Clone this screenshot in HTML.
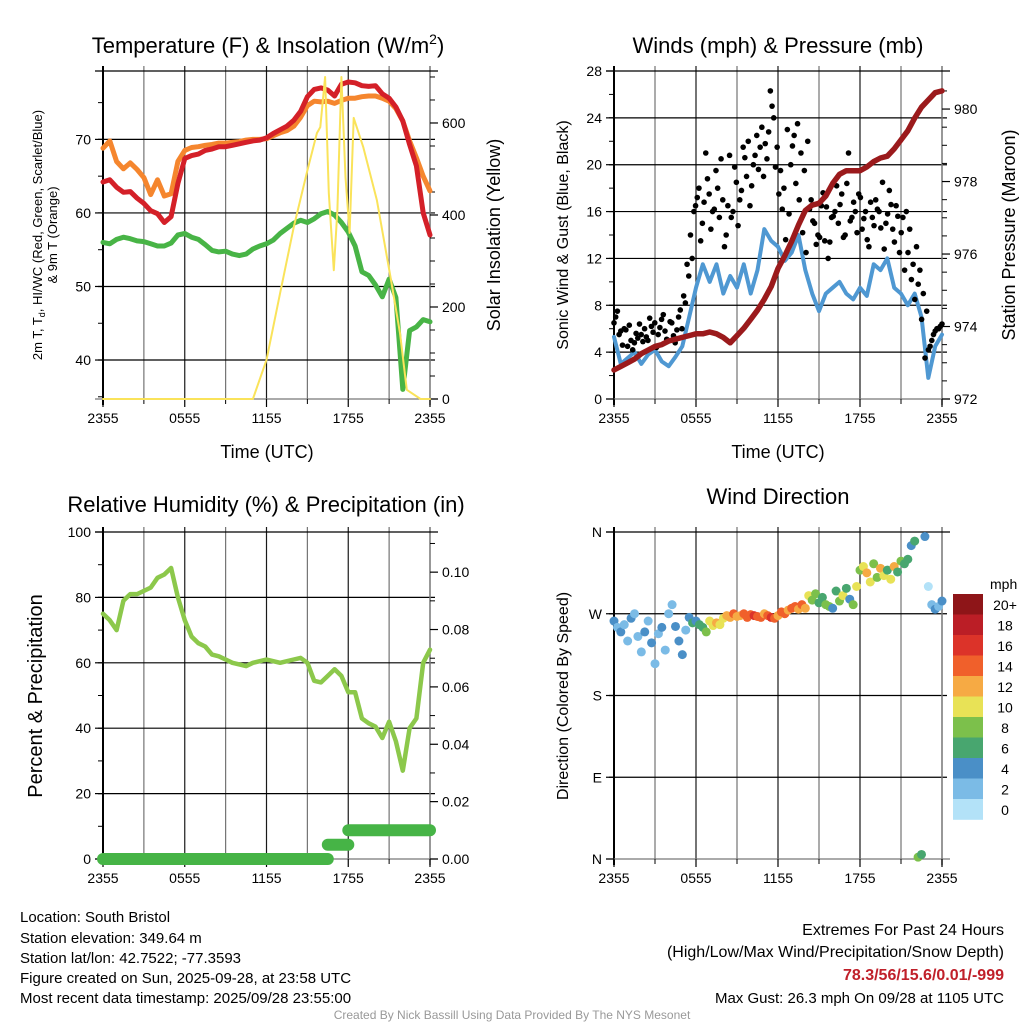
<!DOCTYPE html>
<html><head><meta charset="utf-8">
<style>
html,body{margin:0;padding:0;background:#fff;}
svg{display:block;font-family:"Liberation Sans",Arial,sans-serif;}
</style></head>
<body>
<svg id="c" width="1024" height="1024" viewBox="0 0 1024 1024" xmlns="http://www.w3.org/2000/svg">
<rect x="0" y="0" width="1024" height="1024" fill="#fff"/>
<g font-size="22" text-anchor="middle" fill="#000">
<text x="268" y="53">Temperature (F) &amp; Insolation (W/m<tspan font-size="14" dy="-9">2</tspan><tspan dy="9">)</tspan></text>
<text x="778" y="53">Winds (mph) &amp; Pressure (mb)</text>
<text x="266" y="512">Relative Humidity (%) &amp; Precipitation (in)</text>
<text x="778" y="504">Wind Direction</text>
</g>
<g font-size="18" text-anchor="middle">
<text x="267" y="458">Time (UTC)</text>
<text x="778" y="458">Time (UTC)</text>
<text transform="translate(500,235) rotate(-90)">Solar Insolation (Yellow)</text>
<text transform="translate(1015,235) rotate(-90)">Station Pressure (Maroon)</text>
<text font-size="16" transform="translate(568,235) rotate(-90)">Sonic Wind &amp; Gust (Blue, Black)</text>
<text font-size="20" transform="translate(42,696) rotate(-90)">Percent &amp; Precipitation</text>
<text font-size="16" transform="translate(568,696) rotate(-90)">Direction (Colored By Speed)</text>
<text font-size="13" transform="translate(42,235) rotate(-90)">2m T, T<tspan font-size="9" dy="3">d</tspan><tspan dy="-3">, HI/WC (Red, Green, Scarlet/Blue)</tspan></text>
<text font-size="13" transform="translate(57,235) rotate(-90)">&amp; 9m T (Orange)</text>
</g>
<g font-size="15">
<text x="20" y="922">Location: South Bristol</text>
<text x="20" y="943">Station elevation: 349.64 m</text>
<text x="20" y="963">Station lat/lon: 42.7522; -77.3593</text>
<text x="20" y="983">Figure created on Sun, 2025-09-28, at 23:58 UTC</text>
<text x="20" y="1003">Most recent data timestamp: 2025/09/28 23:55:00</text>
</g>
<g font-size="16" text-anchor="end">
<text x="1004" y="935">Extremes For Past 24 Hours</text>
<text x="1004" y="957">(High/Low/Max Wind/Precipitation/Snow Depth)</text>
<text x="1004" y="980" fill="#c0202a" font-weight="bold">78.3/56/15.6/0.01/-999</text>
<text x="1004" y="1003" font-size="15">Max Gust: 26.3 mph On 09/28 at 1105 UTC</text>
</g>
<text x="512" y="1019" font-size="12" fill="#999" text-anchor="middle">Created By Nick Bassill Using Data Provided By The NYS Mesonet</text>
<g id="plots"></g>
</svg>
<script>
// ---- Data ----
const timeTicks = ["2355","0555","1155","1755","2355"];
const tempRed = [64.2,64.5,63.5,62.8,62.9,62.0,61.3,60.3,59.9,58.7,59.5,64.0,67.4,67.8,68.0,68.5,68.7,69.0,69.0,69.2,69.4,69.6,69.8,69.9,70.2,70.8,71.3,71.8,72.6,73.8,75.8,76.8,77.0,76.7,75.9,77.5,77.8,77.7,77.3,77.2,77.3,76.2,75.6,74.4,72.5,69.3,66.4,60.0,57.0];
const tempOrange = [68.8,69.8,67.0,66.0,66.8,65.9,64.8,62.5,64.5,62.3,62.6,67.0,68.5,68.9,69.0,69.2,69.3,69.5,69.5,69.6,69.7,69.9,70.0,70.0,70.1,70.5,70.9,71.2,71.8,73.0,74.6,75.2,75.1,75.2,74.9,75.3,75.6,75.6,75.8,75.9,75.9,75.6,75.2,74.2,72.5,69.8,67.5,65.0,63.0];
const dewGreen = [56.0,55.8,56.4,56.7,56.5,56.2,56.1,55.8,55.5,55.5,55.9,57.0,57.2,56.7,56.4,55.7,54.9,54.7,54.8,54.4,54.2,54.4,55.1,55.5,55.8,56.3,57.2,57.9,58.6,59.0,58.7,59.2,59.9,60.2,59.7,58.7,57.4,55.5,52.0,51.5,50.2,48.6,51.0,48.5,36.0,44.0,44.5,45.5,45.2];
const solarHours = [0,11.0,12.0,13.0,14.0,15.0,15.7,15.95,16.3,16.57,16.94,17.2,17.5,17.8,18.1,18.4,19.1,20.1,21.1,21.8,22.3,23.3,24];
const solarValues = [0,0,85,230,374,497,578,591,700,448,280,411,700,482,361,611,548,432,265,143,20,0,0];
const tempTicks = [40,50,60,70];
const solarTicks = [0,200,400,600];
const windSpeed = [5.3,3.0,3.5,4.0,3.0,3.8,4.2,3.2,2.8,3.6,4.5,7.0,9.5,11.5,10.0,11.5,9.0,10.5,9.5,11.5,9.0,11.0,14.5,13.5,13.0,11.8,12.5,14.0,11.0,9.0,7.5,9.0,9.5,10.0,9.0,8.5,9.5,8.8,11.5,11.0,12.0,9.5,9.0,8.0,9.0,7.0,1.8,4.5,5.5];
const windGust = [6.5,7.5,5.8,6.0,4.5,5.0,4.8,5.2,5.5,6.0,5.0,6.2,6.5,5.5,6.8,5.8,5.0,6.5,4.8,7.0,6.0,8.2,10.5,12.0,16.5,18.0,15.0,21.0,17.5,16.0,19.5,15.5,17.0,14.0,20.8,16.0,18.5,17.0,21.5,19.0,16.5,20.0,22.5,21.5,19.0,20.5,26.3,24.0,21.5,19.5,18.0,23.0,20.0,22.5,23.5,21.0,19.5,22.0,17.0,15.0,14.0,16.5,13.5,12.0,15.5,16.0,15.0,17.5,14.0,21.0,15.5,16.0,17.5,14.5,16.0,13.0,15.5,17.0,16.0,18.5,15.0,17.8,14.5,16.5,12.5,15.5,16.0,14.5,11.5,13.0,11.0,9.0,7.5,4.5,5.5,6.0,6.2];
const windGustB = [7.0,5.5,4.6,5.9,6.3,4.2,5.6,6.4,4.9,5.3,6.9,5.7,4.4,6.1,7.2,5.1,6.6,5.4,5.9,7.6,8.8,11.5,14.0,16.0,17.2,13.5,16.8,18.8,14.5,16.2,18.0,20.5,13.0,16.5,15.5,19.8,14.8,17.8,20.6,22.0,18.2,20.8,19.6,23.2,21.8,22.8,25.0,19.8,17.5,16.2,13.6,15.8,21.6,18.4,17.0,14.2,12.5,16.2,15.2,13.2,13.8,17.6,16.4,13.4,15.6,18.2,16.6,13.8,18.4,15.2,16.8,14.2,17.2,15.4,13.6,16.8,14.8,16.2,14.6,12.8,15.8,16.6,13.4,15.6,14.2,11.0,12.5,10.2,8.5,9.8,6.8,3.5,4.2,5.0,5.8,6.0,6.4];
const pressure = [972.8,972.9,973.0,973.1,973.25,973.35,973.45,973.5,973.6,973.65,973.7,973.75,973.8,973.8,973.85,973.8,973.7,973.55,973.75,973.95,974.2,974.45,974.75,975.1,975.6,975.95,976.35,976.8,977.2,977.35,977.4,977.6,977.95,978.2,978.3,978.3,978.3,978.4,978.55,978.65,978.7,978.9,979.15,979.4,979.75,980.05,980.25,980.45,980.5];
const windTicks = [0,4,8,12,16,20,24,28];
const pressureTicks = [972,974,976,978,980];
const humidity = [75,73,70,79,81,81,82,83,86,87,89,80,73,68,66,65,62.5,62,61,60,59.5,59,60,60.5,61,60.5,60,60.5,61,61.5,60,54.5,54,56,58,56,51,51,43,41.5,40.5,37,42,36,27,40,43,60,64];
const precip = [0,0,0,0,0,0,0,0,0,0,0,0,0,0,0,0,0,0,0,0,0,0,0,0,0,0,0,0,0,0,0,0,0,0.005,0.005,0.005,0.01,0.01,0.01,0.01,0.01,0.01,0.01,0.01,0.01,0.01,0.01,0.01,0.01];
const humidityTicks = [0,20,40,60,80,100];
const precipTicks = ["0.00","0.02","0.04","0.06","0.08","0.10"];
const windDir = [262,255,250,258,240,265,270,245,228,250,262,238,215,248,255,230,270,280,256,240,225,252,266,260,262,258,255,250,262,257,260,258,265,268,266,270,267,268,270,266,269,268,267,266,270,268,266,265,268,272,270,274,276,278,275,280,276,290,285,292,282,288,280,278,276,295,284,290,298,286,280,300,318,322,315,305,325,310,320,312,318,308,322,316,328,325,330,345,350,2,5,355,300,280,275,278,284];
const dirSpeed = [4,3,4,3,2,4,3,2,3,4,3,4,2,3,4,3,2,3,4,5,4,3,4,6,5,6,7,9,10,11,12,10,11,12,13,14,13,12,14,15,14,16,15,14,13,15,16,14,13,14,15,13,15,14,13,15,12,10,9,8,7,6,9,8,4,7,8,10,6,5,9,10,9,11,12,10,8,9,13,10,7,11,12,6,8,7,6,5,6,8,7,4,1,3,4,3,4];
const dirTicks = ["N","E","S","W","N"];
const speedLevels = ["0","2","4","6","8","10","12","14","16","18","20+"];
const speedColors = ["#b3e2f8","#7bbbe6","#4a8fc7","#48a66f","#7cc04b","#e8e256","#f6aa44","#f0602b","#dc3329","#bb1e26","#8e1518"];

// ---- Drawing ----
const NS="http://www.w3.org/2000/svg";
const root=document.getElementById('plots');
function mk(tag,attrs,parent){const e=document.createElementNS(NS,tag);for(const k in attrs)e.setAttribute(k,attrs[k]);(parent||root).appendChild(e);return e;}
function scale(d0,d1,r0,r1){return v=>r0+(v-d0)*(r1-r0)/(d1-d0);}
function pathOf(xs,ys){return xs.map((x,i)=>(i?'L':'M')+x.toFixed(1)+' '+ys[i].toFixed(1)).join(' ');}

function frame(name,L,T,R,B,hLines){
  const g=mk('g',{});
  
  
  for(let k=1;k<8;k++){const x=L+(R-L)*k/8;
    const ln=mk('line',{x1:x,y1:T-5,x2:x,y2:B,stroke:'#000','stroke-width':1.2,'stroke-opacity':(k%2?0.55:0.9)},g);
    }
  hLines.forEach(y=>{const ln=mk('line',{x1:L-5,y1:y,x2:R+5,y2:y,stroke:'#000','stroke-width':1.2},g);
    });
  mk('line',{x1:L,y1:T-5,x2:L,y2:B+6,stroke:'#000','stroke-width':2},g);
  mk('line',{x1:R,y1:T-5,x2:R,y2:B+6,stroke:'#777','stroke-width':1.5},g);
  mk('line',{x1:L-8,y1:B,x2:R+8,y2:B,stroke:'#777','stroke-width':1.2},g);
  mk('line',{x1:L-8,y1:T,x2:R+8,y2:T,stroke:'#000','stroke-width':1.2},g);
  // time ticks
  timeTicks.forEach((t,k)=>{const x=L+(R-L)*k/4;
    mk('line',{x1:x,y1:B,x2:x,y2:B+8,stroke:'#000','stroke-width':1.2},g);
    const tx=mk('text',{x:x,y:B+24,'font-size':14,'text-anchor':'middle'},g);tx.textContent=t;
    });
  for(let k=1;k<8;k+=2){const x=L+(R-L)*k/8;mk('line',{x1:x,y1:B,x2:x,y2:B+5,stroke:'#000'},g);}
  return g;
}
function yTicks(g,x,side,vals,sy,labels,minor){
  vals.forEach((v,i)=>{const y=sy(v);
    mk('line',{x1:x,y1:y,x2:x+side*8,y2:y,stroke:'#000','stroke-width':1.2},g);
    const t=mk('text',{x:x+side*12,y:y+5,'font-size':14,'text-anchor':side<0?'end':'start'},g);
    t.textContent=labels?labels[i]:v;
    });
  (minor||[]).forEach(v=>{const y=sy(v);mk('line',{x1:x,y1:y,x2:x+side*5,y2:y,stroke:'#000'},g);});
}
function line(name,xs,ys,color,w,extra){
  const p=mk('path',Object.assign({d:pathOf(xs,ys),fill:'none',stroke:color,'stroke-width':w,'stroke-linejoin':'round','stroke-linecap':'round'},extra||{}));
  return p;
}

// Panel 1
(function(){
  const L=103,R=430,T=71,B=399;
  const sx=scale(0,24,L,R), sy=scale(34.7,79.3,B,T), ss=scale(0,713,B,T);
  const g=frame('temperature',L,T,R,B,tempTicks.map(sy));
  yTicks(g,L,-1,tempTicks,sy,null,[35,45,55,65,75]);
  yTicks(g,R,1,solarTicks,ss,null,[50,100,150,250,300,350,450,500,550,650,700]);
  const hx=a=>a.map((v,i)=>sx(i*24/(a.length-1)));
  line('temperature-9m-orange-line',hx(tempOrange),tempOrange.map(sy),'#f5862e',5);
  line('temperature-2m-red-line',hx(tempRed),tempRed.map(sy),'#d42028',5);
  line('dewpoint-green-line',hx(dewGreen),dewGreen.map(sy),'#48b446',5);
  line('solar-insolation-yellow-line',solarHours.map(sx),solarValues.map(ss),'#fae35a',2);
})();

// Panel 2
(function(){
  const L=614,R=942,T=71,B=399;
  const sx=scale(0,24,L,R), sy=scale(0,28,B,T), sp=scale(972,981.05,B,T);
  const g=frame('winds',L,T,R,B,windTicks.slice(1,7).map(sy));
  yTicks(g,L,-1,windTicks,sy,null,[2,6,10,14,18,22,26]);
  yTicks(g,R,1,pressureTicks,sp,null,[972.5,973,973.5,974.5,975,975.5,976.5,977,977.5,978.5,979,979.5,980.5]);
  line('sonic-wind-blue-line',windSpeed.map((v,i)=>sx(i*24/(windSpeed.length-1))),windSpeed.map(sy),'#4f98d2',4);
  [windGust,windGustB].forEach((arr,a)=>arr.forEach((v,i)=>{
    const c=mk('circle',{cx:sx((i+a*0.5)*24/(arr.length-0.5)),cy:sy(v),r:2.8,fill:'#000'});
    
    
  }));
  line('station-pressure-maroon-line',pressure.map((v,i)=>sx(i*24/(pressure.length-1))),pressure.map(sp),'#9b1a1c',5.5);
})();

// Panel 3
(function(){
  const L=103,R=430,T=532,B=859;
  const sx=scale(0,24,L,R), sy=scale(0,100,B,T), sr=scale(0,0.114,B,T);
  const g=frame('humidity',L,T,R,B,humidityTicks.slice(1,5).map(sy));
  yTicks(g,L,-1,humidityTicks,sy,null,[10,30,50,70,90]);
  yTicks(g,R,1,precipTicks.map(Number),sr,precipTicks,[0.01,0.03,0.05,0.07,0.09,0.11]);
  line('relative-humidity-line',humidity.map((v,i)=>sx(i*24/(humidity.length-1))),humidity.map(sy),'#8cc84b',4.5);
  // step precip
  const xs=[],ys=[];
  precip.forEach((v,i)=>{const x=sx(i*24/(precip.length-1));if(i>0&&v!==precip[i-1]){xs.push(x);ys.push(sr(precip[i-1]));const p=line('precip-segment',xs.slice(),ys.slice(),'#46b446',12);xs.length=0;ys.length=0;}xs.push(x);ys.push(sr(v));});
  line('precip-segment',xs,ys,'#46b446',12);
})();

// Panel 4
(function(){
  const L=614,R=942,T=532,B=859;
  const sx=scale(0,24,L,R), sy=scale(0,360,B,T);
  const g=frame('wind-direction',L,T,R,B,[90,180,270].map(sy));
  yTicks(g,L,-1,[0,90,180,270,360],sy,dirTicks,[]);
  const colorOf=s=>speedColors[Math.min(10,Math.floor(s/2))];
  windDir.forEach((d,i)=>{
    const c=mk('circle',{cx:sx(i*24/(windDir.length-1)),cy:sy(d),r:4.5,fill:colorOf(dirSpeed[i])});
    
    
  });
  const lg=mk('g',{});
  
  
  const t0=mk('text',{x:990,y:589,'font-size':14},lg);t0.textContent='mph';
  const top=594,h=20.5;
  speedLevels.slice().reverse().forEach((lab,k)=>{
    const col=speedColors[10-k];
    const r=mk('rect',{x:953,y:top+k*h,width:30,height:h+0.3,fill:col},lg);
    
    const t=mk('text',{x:1005,y:top+k*h+16,'font-size':14,'text-anchor':'middle'},lg);t.textContent=lab;
  });
})();
</script>
</body></html>
